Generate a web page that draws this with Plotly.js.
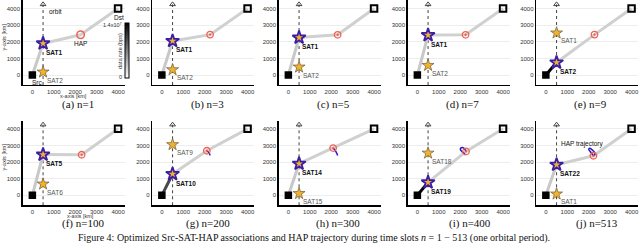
<!DOCTYPE html>
<html><head><meta charset="utf-8">
<script src="https://cdn.plot.ly/plotly-3.0.1.min.js"></script>
<style>html,body{margin:0;padding:0;background:#fff}#chart{width:640px;height:245px}</style>
</head><body><div id="chart"></div>
<script>
// ---- data ----
const slotN      = [1, 3, 5, 7, 9, 100, 200, 300, 400, 513];
const panelTag   = ['a','b','c','d','e','f','g','h','i','j'];
const servName   = ['SAT1','SAT1','SAT1','SAT1','SAT2','SAT5','SAT10','SAT14','SAT19','SAT22'];
const servY      = [1900, 2050, 2250, 2400, 750, 2450, 1280, 1900, 780, 1840];
const otherName  = ['SAT2','SAT2','SAT2','SAT2','SAT1','SAT6','SAT9','SAT15','SAT18','SAT1'];
const otherY     = [180, 320, 480, 580, 2530, 680, 3050, 110, 2540, 80];
const hapX       = [2250, 2250, 2300, 2250, 2270, 2300, 2100, 2090, 2270, 2220];
const hapY       = [2420, 2430, 2420, 2420, 2430, 2440, 2680, 2840, 2640, 2380];
const srcSatRate = [3.0e6, 3.0e6, 3.0e6, 3.0e6, 1.38e7, 3.0e6, 1.0e7, 3.0e6, 1.38e7, 3.0e6];
const relayRate  = [2.6e6, 2.6e6, 2.6e6, 2.6e6, 2.6e6, 2.6e6, 2.6e6, 2.6e6, 2.6e6, 2.6e6];
const orbitX = 500;
const srcXY = [0, 0];
const dstXY = [4000, 4000];
const rateMax = 1.4e7;
const tickVals = [0, 1000, 2000, 3000, 4000];

const trajX_g = [2250, 2235, 2190, 2140, 2100];
const trajY_g = [2400, 2470, 2570, 2640, 2680];
const trajX_h = [2300, 2270, 2220, 2160, 2110, 2090];
const trajY_h = [2400, 2500, 2630, 2740, 2810, 2840];
const trajX_i = [2250, 2180, 2080, 2010, 2020, 2100, 2180, 2240, 2270];
const trajY_i = [2420, 2520, 2640, 2740, 2830, 2880, 2820, 2720, 2640];
const trajX_j = [2220, 2150, 2060, 2000, 2050, 2150, 2250, 2300, 2260, 2220];
const trajY_j = [2380, 2500, 2650, 2780, 2830, 2750, 2620, 2500, 2420, 2380];
const trajPanel = [6, 7, 8, 9];
const trajXs = [trajX_g, trajX_h, trajX_i, trajX_j];
const trajYs = [trajY_g, trajY_h, trajY_i, trajY_j];

// ---- layout geometry ----
const W = 640, H = 245;
const colLeft = [22.5, 152, 278.5, 407.5, 536];
const colW = 102;
const rowPx = [[0.2, 85], [120.5, 205.3]];
const capX = [[78, 207, 333, 462, 590], [83, 208, 338, 470, 597]];
const capY = [104.5, 223];

function grayOf(rate) {
  const v = Math.round(255 * (1 - rate / rateMax));
  return 'rgb(' + v + ',' + v + ',' + v + ')';
}

const tickFont = {family: 'Liberation Sans, Arial, sans-serif', size: 6, color: '#333'};
const labFont = {family: 'Liberation Sans, Arial, sans-serif', size: 6.5, color: '#111'};
const traces = [];
const annotations = [];
const layout = {
  width: W, height: H, margin: {l: 0, r: 0, t: 0, b: 0},
  paper_bgcolor: '#fff', plot_bgcolor: '#fff', showlegend: false,
  annotations: annotations
};

for (let k = 0; k < 10; k++) {
  const row = k < 5 ? 0 : 1, col = k % 5;
  const sfx = k === 0 ? '' : String(k + 1);
  const xa = 'x' + sfx, ya = 'y' + sfx;
  layout['xaxis' + sfx] = {
    domain: [colLeft[col] / W, (colLeft[col] + colW) / W],
    range: [-460, 4300], anchor: ya,
    showline: true, linecolor: '#000', linewidth: 1.3,
    showgrid: false, zeroline: false, ticks: '',
    tickvals: tickVals, tickfont: tickFont, fixedrange: true
  };
  layout['yaxis' + sfx] = {
    domain: [1 - rowPx[row][1] / H, 1 - rowPx[row][0] / H],
    range: [-600, 4500], anchor: xa,
    showline: true, linecolor: '#000', linewidth: 1.3,
    showgrid: true, gridcolor: '#ededed', gridwidth: 1,
    zeroline: false, ticks: '',
    tickvals: tickVals, tickfont: tickFont, fixedrange: true
  };

  // orbit (dotted, with arrow tip)
  traces.push({x: [orbitX, orbitX], y: [-600, 4250], xaxis: xa, yaxis: ya, mode: 'lines',
    line: {color: '#444', width: 1, dash: 'dot'}, hoverinfo: 'skip'});
  traces.push({x: [orbitX], y: [4250], xaxis: xa, yaxis: ya, mode: 'markers',
    marker: {symbol: 'triangle-up-open', size: 5, color: '#444', line: {width: 1, color: '#444'}}, hoverinfo: 'skip'});

  // relay links SAT->HAP->Dst
  traces.push({x: [orbitX, hapX[k], dstXY[0]], y: [servY[k], hapY[k], dstXY[1]], xaxis: xa, yaxis: ya,
    mode: 'lines', line: {color: grayOf(relayRate[k]), width: 3}, hoverinfo: 'skip'});
  // Src->SAT link
  traces.push({x: [srcXY[0], orbitX], y: [srcXY[1], servY[k]], xaxis: xa, yaxis: ya,
    mode: 'lines', line: {color: grayOf(srcSatRate[k]), width: 3}, hoverinfo: 'skip'});

  // HAP trajectory
  const ti = trajPanel.indexOf(k);
  if (ti >= 0) {
    traces.push({x: trajXs[ti], y: trajYs[ti], xaxis: xa, yaxis: ya, mode: 'lines',
      line: {color: '#2a18c8', width: 1.5, shape: 'spline'}, hoverinfo: 'skip'});
  }

  // Src and Dst
  traces.push({x: [srcXY[0]], y: [srcXY[1]], xaxis: xa, yaxis: ya, mode: 'markers',
    marker: {symbol: 'square', size: 7.5, color: '#000'}, hoverinfo: 'skip'});
  traces.push({x: [dstXY[0]], y: [dstXY[1]], xaxis: xa, yaxis: ya, mode: 'markers',
    marker: {symbol: 'square-open', size: 6.5, color: '#000', line: {width: 2, color: '#000'}}, hoverinfo: 'skip'});
  // HAP
  traces.push({x: [hapX[k]], y: [hapY[k]], xaxis: xa, yaxis: ya, mode: 'markers',
    marker: k === 0 ? {symbol: 'circle-open', size: 7.5, color: '#f0604f', line: {width: 1.5, color: '#f0604f'}}
                    : {symbol: 'circle-open-dot', size: 6.5, color: '#f0604f', line: {width: 1.3, color: '#f0604f'}},
    hoverinfo: 'skip'});
  // satellites
  traces.push({x: [orbitX], y: [otherY[k]], xaxis: xa, yaxis: ya, mode: 'markers',
    marker: {symbol: 'star', size: 9, color: '#f2b230', line: {width: 0.7, color: '#6a5a30'}}, hoverinfo: 'skip'});
  traces.push({x: [orbitX], y: [servY[k]], xaxis: xa, yaxis: ya, mode: 'markers',
    marker: {symbol: 'star', size: 10, color: '#f2b230', line: {width: 1.8, color: '#3b1ea6'}}, hoverinfo: 'skip'});

  annotations.push({xref: xa, yref: ya, x: orbitX, y: servY[k], xanchor: 'left', yanchor: 'middle',
    xshift: 1, yshift: -9, showarrow: false, text: '<b>' + servName[k] + '</b>', font: labFont});
  annotations.push({xref: xa, yref: ya, x: orbitX, y: otherY[k], xanchor: 'left', yanchor: 'middle',
    xshift: 2, yshift: -8, showarrow: false, text: otherName[k],
    font: {family: labFont.family, size: 6.5, color: '#555'}});

  // sub-caption
  annotations.push({xref: 'paper', yref: 'paper', x: capX[row][col] / W, y: 1 - capY[row] / H,
    xanchor: 'center', yanchor: 'middle', showarrow: false,
    text: '(' + panelTag[k] + ') n=' + slotN[k],
    font: {family: 'Liberation Serif, Times New Roman, serif', size: 11, color: '#111'}});
}

// panel (a) labels
annotations.push({xref: 'x', yref: 'y', x: srcXY[0], y: srcXY[1], xanchor: 'left', yanchor: 'middle', xshift: -2, yshift: -7, showarrow: false, text: 'Src', font: labFont});
annotations.push({xref: 'x', yref: 'y', x: dstXY[0], y: dstXY[1], xanchor: 'center', yanchor: 'middle', xshift: 1, yshift: -9, showarrow: false, text: 'Dst', font: labFont});
annotations.push({xref: 'x', yref: 'y', x: hapX[0], y: hapY[0], xanchor: 'center', yanchor: 'middle', yshift: -9, showarrow: false, text: 'HAP', font: labFont});
annotations.push({xref: 'x', yref: 'y', x: orbitX, y: 3800, xanchor: 'left', yanchor: 'middle', xshift: 4, showarrow: false, text: 'orbit', font: labFont});
// HAP trajectory label in (j)
annotations.push({xref: 'x10', yref: 'y10', x: 1700, y: 3080, xanchor: 'center', yanchor: 'middle', showarrow: false, text: 'HAP trajectory', font: labFont});

// axis titles (panels a and f)
const axFont = {family: 'Liberation Sans, Arial, sans-serif', size: 5.5, color: '#333'};
annotations.push({xref: 'paper', yref: 'paper', x: 73 / W, y: 1 - 95.5 / H, xanchor: 'center', yanchor: 'middle', showarrow: false, text: 'x-axis [km]', font: axFont});
annotations.push({xref: 'paper', yref: 'paper', x: 80 / W, y: 1 - 215.5 / H, xanchor: 'center', yanchor: 'middle', showarrow: false, text: 'x-axis [km]', font: axFont});
annotations.push({xref: 'paper', yref: 'paper', x: 3.5 / W, y: 1 - 37 / H, xanchor: 'center', yanchor: 'middle', textangle: -90, showarrow: false, text: 'y-axis [km]', font: axFont});
annotations.push({xref: 'paper', yref: 'paper', x: 3.5 / W, y: 1 - 157 / H, xanchor: 'center', yanchor: 'middle', textangle: -90, showarrow: false, text: 'y-axis [km]', font: axFont});

// colorbar for data rate
traces.push({x: [-9999], y: [-9999], xaxis: 'x', yaxis: 'y', mode: 'markers', hoverinfo: 'skip',
  marker: {size: 1, color: [0], cmin: 0, cmax: rateMax,
    colorscale: [[0, '#ffffff'], [1, '#000000']], showscale: true,
    colorbar: {x: 125 / W, xanchor: 'left', xpad: 0, ypad: 0, thickness: 3.5,
      lenmode: 'pixels', len: 55, y: 1 - 50.5 / H, yanchor: 'middle',
      outlinewidth: 1, outlinecolor: '#000', showticklabels: false, ticks: ''}}});
annotations.push({xref: 'paper', yref: 'paper', x: 123.5 / W, y: 1 - 25 / H, xanchor: 'right', yanchor: 'middle', showarrow: false, text: '1.4x10<sup>7</sup>', font: axFont});
annotations.push({xref: 'paper', yref: 'paper', x: 123.5 / W, y: 1 - 77 / H, xanchor: 'right', yanchor: 'middle', showarrow: false, text: '0', font: axFont});
annotations.push({xref: 'paper', yref: 'paper', x: 120 / W, y: 1 - 51 / H, xanchor: 'center', yanchor: 'middle', textangle: -90, showarrow: false, text: 'data rate (bps)', font: axFont});

// figure caption
annotations.push({xref: 'paper', yref: 'paper', x: 0.49, y: 1 - 237.5 / H, xanchor: 'center', yanchor: 'middle', showarrow: false,
  text: 'Figure 4: Optimized Src-SAT-HAP associations and HAP trajectory during time slots <i>n</i> = 1 − 513 (one orbital period).',
  font: {family: 'Liberation Serif, Times New Roman, serif', size: 10, color: '#111'}});

Plotly.newPlot('chart', traces, layout, {staticPlot: true, displayModeBar: false});
</script></body></html>
